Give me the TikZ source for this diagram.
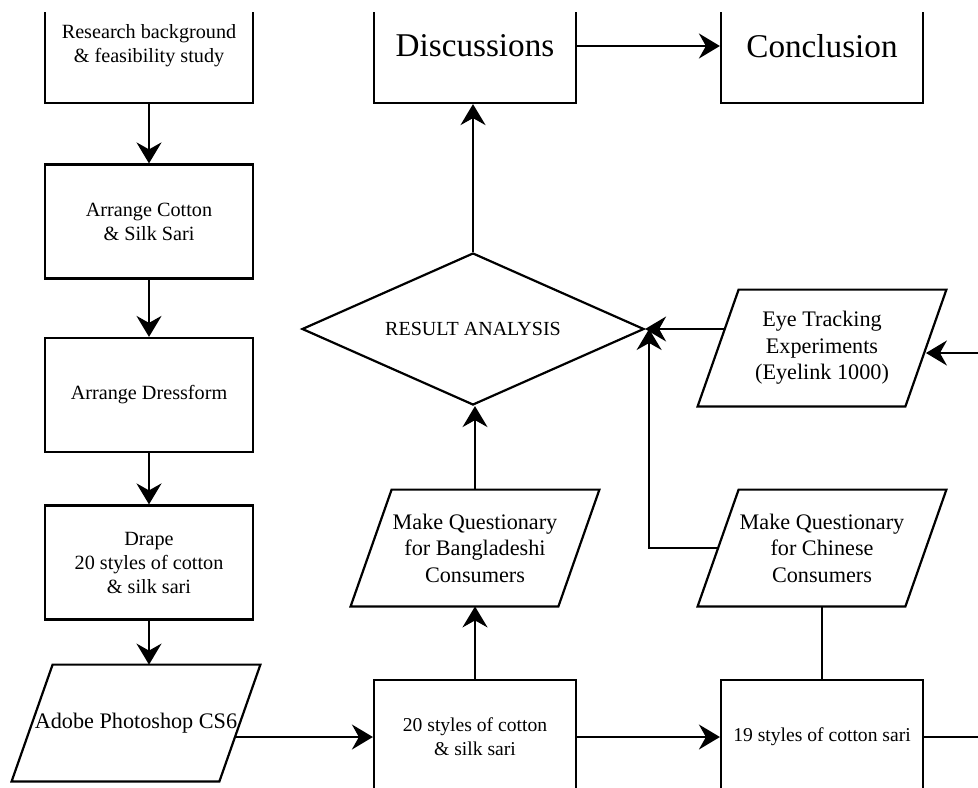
\documentclass[tikz,border=0pt]{standalone}
\usepackage{fontspec}
\setmainfont{Liberation Serif}
\usetikzlibrary{positioning, arrows.meta, shapes.geometric}
\tikzset{
  box/.style={rectangle, draw, line width=1.1pt, minimum width=101pt,
              minimum height=57pt, align=center, inner sep=2pt,
              font=\fontsize{9.8}{12}\selectfont},
  lbox/.style={box, minimum width=104pt, font=\fontsize{10.1}{12}\selectfont},
  bigbox/.style={box, font=\fontsize{16.6}{20}\selectfont},
  para/.style={rectangle, minimum width=103.5pt, minimum height=58pt,
               align=center, inner sep=1pt, font=\fontsize{11.1}{13.3}\selectfont,
               append after command={\pgfextra{\draw[line width=1.1pt, line join=miter]
                 ([xshift=10.25pt]\tikzlastnode.north west) -- ([xshift=10.25pt]\tikzlastnode.north east)
                 -- ([xshift=-10.25pt]\tikzlastnode.south east) -- ([xshift=-10.25pt]\tikzlastnode.south west)
                 -- cycle;}}},
  dia/.style={diamond, draw, line width=1.1pt, minimum width=171pt,
              minimum height=76pt, inner sep=0pt, font=\fontsize{10}{12}\selectfont},
  arr/.style={-{Stealth[length=10.5pt, width=12.5pt, inset=3.5pt]}, line width=1.1pt},
  ln/.style={line width=1.1pt},
}
\begin{document}
\begin{tikzpicture}[x=0.5pt, y=-0.5pt]
\useasboundingbox (0,0) rectangle (978,787);
\clip (0,12) rectangle (978,787);
% left column
\node[lbox] (res) at (149,46) {Research background\\\& feasibility study};
\node[lbox] (cot) at (149,221.5) {Arrange Cotton\\\& Silk Sari};
\node[lbox] (dress) at (149,395) {Arrange Dressform};
\node[lbox] (drape) at (149,562.5) {Drape\\20 styles of cotton\\\& silk sari};
\node[para] (ps) at (136,723) {\raisebox{-2pt}{Adobe Photoshop CS6}};
% middle and right
\node[bigbox] (disc) at (475,46) {Discussions};
\node[bigbox] (conc) at (822,46) {Conclusion};
\node[dia] (ana) at (473,329) {\makebox[0pt]{RESULT ANALYSIS}};
\node[para] (eye) at (822,348) {Eye Tracking\\Experiments\\(Eyelink 1000)};
\node[para] (bang) at (475,548) {Make Questionary\\for Bangladeshi\\Consumers};
\node[para] (chin) at (822,548) {Make Questionary\\for Chinese\\Consumers};
\node[box] (s20) at (475,737) {20 styles of cotton\\\& silk sari};
\node[box] (s19) at (822,737) {19 styles of cotton sari};
\coordinate (rin) at (990,353);
\coordinate (rout) at (990,737);
% connectors
\draw[arr] (res) -- (cot);
\draw[arr] (cot) -- (dress);
\draw[arr] (dress) -- (drape);
\draw[arr] (drape.south) -- (drape.south |- ps.north);
\draw[arr] ([xshift=-2pt]ps.east |- s20.west) -- (s20.west);
\draw[arr] (s20) -- (s19);
\draw[arr] (s20) -- (bang);
\draw[arr] (bang.north) -- (bang.north |- ana.south);
\draw[arr] (ana.north) -- (ana.north |- disc.south);
\draw[arr] (disc) -- (conc);
\draw[ln] (s19) -- (chin);
\draw[arr] (chin.west) -| ([xshift=2pt]ana.east);
\draw[arr] ([xshift=3.2pt]eye.west |- ana.east) -- (ana.east);
\draw[arr] (rin) -- (rin -| eye.east);
\draw[ln] (s19) -- (rout);
\end{tikzpicture}
\end{document}
